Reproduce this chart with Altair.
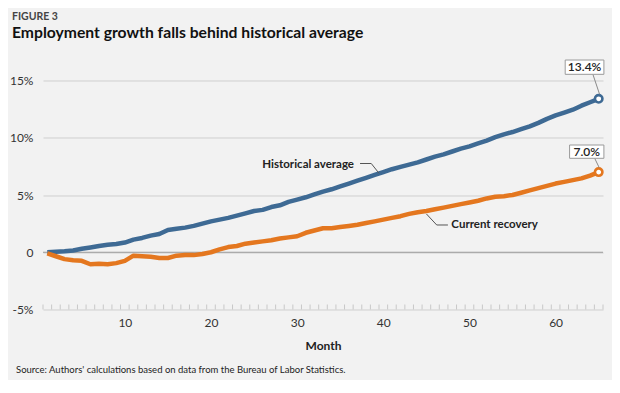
import altair as alt
import pandas as pd

# ---------------- data ----------------
months = list(range(1, 66))
historical = [
    0.0, 0.05, 0.08, 0.15, 0.3, 0.42, 0.55, 0.65, 0.72, 0.85,
    1.1, 1.25, 1.45, 1.6, 1.95, 2.05, 2.15, 2.3, 2.5, 2.7,
    2.85, 3.0, 3.2, 3.4, 3.6, 3.7, 3.95, 4.1, 4.4, 4.6,
    4.8, 5.05, 5.3, 5.5, 5.75, 6.0, 6.25, 6.5, 6.75, 7.0,
    7.25, 7.45, 7.65, 7.85, 8.1, 8.35, 8.55, 8.8, 9.05, 9.25,
    9.5, 9.75, 10.05, 10.3, 10.5, 10.75, 11.0, 11.3, 11.65, 11.95,
    12.2, 12.45, 12.8, 13.1, 13.4,
]
current = [
    -0.1, -0.35, -0.6, -0.7, -0.75, -1.05, -1.0, -1.05, -0.95, -0.75,
    -0.3, -0.35, -0.4, -0.5, -0.5, -0.3, -0.25, -0.25, -0.15, 0.0,
    0.25, 0.45, 0.55, 0.75, 0.85, 0.95, 1.05, 1.2, 1.3, 1.4,
    1.7, 1.9, 2.1, 2.1, 2.2, 2.3, 2.4, 2.55, 2.7, 2.85,
    3.0, 3.15, 3.35, 3.5, 3.6, 3.75, 3.9, 4.05, 4.2, 4.35,
    4.5, 4.7, 4.85, 4.9, 5.0, 5.2, 5.4, 5.6, 5.8, 6.0,
    6.15, 6.3, 6.45, 6.7, 7.0,
]
series_names = ["Historical average", "Current recovery"]
y_ticks = [-5, 0, 5, 10, 15]
x_labels = [10, 20, 30, 40, 50, 60]

FONT = "Lato"
BLUE = "#3e6a94"
ORANGE = "#e4771f"
BG = "#f2f2f2"

df = pd.DataFrame({
    "month": months * 2,
    "value": historical + current,
    "series": [series_names[0]] * len(months) + [series_names[1]] * len(months),
})
end_df = df[df["month"] == months[-1]].copy()

W, H = 560, 229
x_scale = alt.Scale(domain=[0.5, months[-1] + 0.5], nice=False, zero=False)
y_scale = alt.Scale(domain=[y_ticks[0], y_ticks[-1]], nice=False, zero=False)
color_scale = alt.Scale(domain=series_names, range=[BLUE, ORANGE])

x_enc = alt.X(
    "month:Q", scale=x_scale,
    axis=alt.Axis(
        values=x_labels, format="d", domain=False, grid=False, ticks=False,
        labelFont=FONT, labelFontSize=12, labelColor="#333", labelPadding=8,
        labelOverlap=False, labelFlush=False,
        title="Month", titleFont=FONT, titleFontSize=12, titleFontWeight="bold",
        titleColor="#222", titlePadding=12,
    ),
)
y_enc = alt.Y(
    "value:Q", scale=y_scale,
    axis=alt.Axis(
        values=y_ticks,
        labelExpr="datum.value == 0 ? '0' : datum.value + '%'",
        grid=True, gridColor="#cfcfcf", gridWidth=1, domain=False, ticks=False,
        labelPadding=10, labelFont=FONT, labelFontSize=12, labelColor="#333",
        title=None,
    ),
)

# small category ticks between months along the bottom
tick_df = pd.DataFrame({"edge": [m - 0.5 for m in months] + [months[-1] + 0.5]})
cat_ticks = alt.Chart(tick_df).mark_rule(color="#c8c8c8", strokeWidth=1, y2Offset=-5).encode(
    x=alt.X("edge:Q", scale=x_scale),
    y=alt.datum(y_ticks[0], scale=y_scale),
    y2=alt.datum(y_ticks[0]),
)

zero_rule = alt.Chart(pd.DataFrame({"z": [0]})).mark_rule(color="#999", strokeWidth=1).encode(
    y=alt.Y("z:Q", scale=y_scale),
)

lines = alt.Chart(df).mark_line(strokeWidth=4.5, strokeJoin="round").encode(
    x=x_enc, y=y_enc,
    color=alt.Color("series:N", scale=color_scale, legend=None),
    detail="series:N",
)

end_points = alt.Chart(end_df).mark_point(
    shape="circle", filled=True, fill="white", size=55, strokeWidth=2.6, opacity=1
).encode(
    x=alt.X("month:Q", scale=x_scale),
    y=alt.Y("value:Q", scale=y_scale),
    stroke=alt.Stroke("series:N", scale=color_scale, legend=None),
)


def value_label(value, text, box, txt, leader):
    m = months[-1]
    bx0, bx1, by0, by1 = box
    one = pd.DataFrame({"a": [0]})
    rect = alt.Chart(one).mark_rect(
        fill="white", stroke="#9a9a9a", strokeWidth=1,
        xOffset=bx0, x2Offset=bx1, yOffset=by0, y2Offset=by1,
    ).encode(
        x=alt.datum(m, scale=x_scale), x2=alt.datum(m),
        y=alt.datum(value, scale=y_scale), y2=alt.datum(value),
    )
    lx0, ly0, lx1, ly1 = leader
    lead = alt.Chart(one).mark_rule(
        color="#8a8a8a", strokeWidth=1,
        xOffset=lx0, yOffset=ly0, x2Offset=lx1, y2Offset=ly1,
    ).encode(
        x=alt.datum(m, scale=x_scale), x2=alt.datum(m),
        y=alt.datum(value, scale=y_scale), y2=alt.datum(value),
    )
    label = alt.Chart(one).mark_text(
        text=text, font=FONT, fontSize=12, fontWeight=600, color="#222",
        align="center", baseline="middle", dx=txt[0], dy=txt[1],
    ).encode(
        x=alt.datum(m, scale=x_scale), y=alt.datum(value, scale=y_scale),
    )
    return [lead, rect, label]


hist_label = value_label(historical[-1], f"{historical[-1]:.1f}%",
                         (-33.5, 5.2, -38.8, -24.5), (-14.1, -31.6), (-5.8, -24.5, 0.9, -4.5))
curr_label = value_label(current[-1], f"{current[-1]:.1f}%",
                         (-29.1, 5.2, -27.1, -13.8), (-12, -20.4), (-4.0, -13.8, 0.5, -4.5))

# series annotations (direct labels with leader lines)
ann_hist = alt.Chart(pd.DataFrame({"month": [36.6], "value": [7.62], "label": [series_names[0]]})).mark_text(
    font=FONT, fontSize=11.5, fontWeight="bold", color="#222", align="right", baseline="middle",
).encode(x=alt.X("month:Q", scale=x_scale), y=alt.Y("value:Q", scale=y_scale), text="label:N")

ann_curr = alt.Chart(pd.DataFrame({"month": [47.9], "value": [2.38], "label": [series_names[1]]})).mark_text(
    font=FONT, fontSize=11.5, fontWeight="bold", color="#222", align="left", baseline="middle",
).encode(x=alt.X("month:Q", scale=x_scale), y=alt.Y("value:Q", scale=y_scale), text="label:N")

leaders = alt.Chart(pd.DataFrame({
    "month": [37.3, 38.6, 39.5, 45.0, 46.2, 47.5],
    "value": [7.75, 7.75, 6.9, 3.35, 2.38, 2.38],
    "grp": ["h", "h", "h", "c", "c", "c"],
    "ord": [0, 1, 2, 0, 1, 2],
})).mark_line(color="#555", strokeWidth=1).encode(
    x=alt.X("month:Q", scale=x_scale), y=alt.Y("value:Q", scale=y_scale),
    detail="grp:N", order="ord:Q",
)

source = alt.Chart(pd.DataFrame({"a": [0]})).mark_text(
    text="Source: Authors' calculations based on data from the Bureau of Labor Statistics.",
    font=FONT, fontSize=9.5, color="#222", align="left", baseline="middle",
).encode(x=alt.value(-27), y=alt.value(289.5))

chart = alt.layer(
    cat_ticks, zero_rule, lines, leaders, ann_hist, ann_curr, end_points,
    *hist_label, *curr_label, source,
).properties(
    width=W, height=H,
    autosize=alt.AutoSizeParams(type="none"),
    padding={"left": 35, "top": 72.5, "right": 9, "bottom": 70},
    title=alt.TitleParams(
        text="FIGURE 3",
        subtitle="Employment growth falls behind historical average",
        anchor="start", frame="group", dx=-31, offset=19,
        font=FONT, fontSize=10.5, fontWeight="bold", color="#444",
        subtitleFont=FONT, subtitleFontSize=15.7, subtitleFontWeight="bold",
        subtitleColor="#111", subtitlePadding=3,
    ),
).configure(background=BG).configure_view(stroke=None)

chart.save("out.html", embed_options={"renderer": "svg", "actions": False})
